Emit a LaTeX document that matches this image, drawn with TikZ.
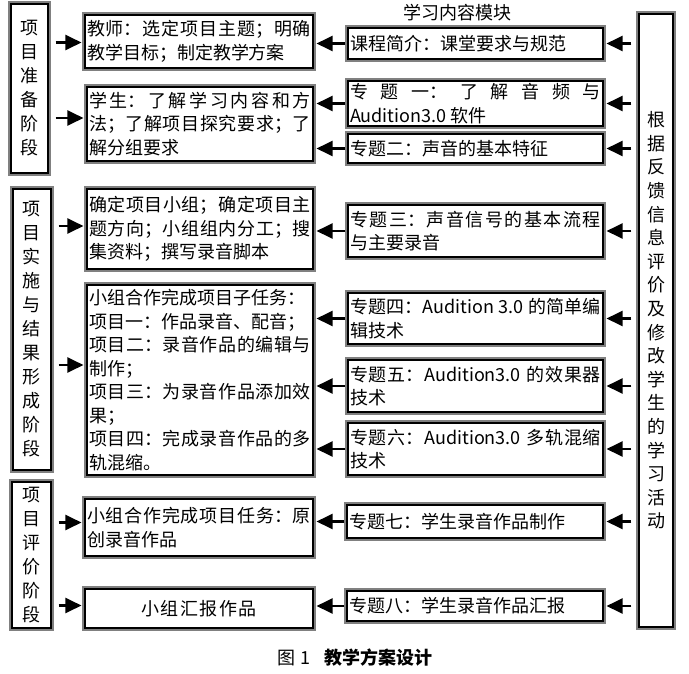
\documentclass[tikz,border=0pt]{standalone}
\usepackage{fontspec}
\setmainfont{Noto Sans CJK SC}
\usetikzlibrary{arrows.meta}
\XeTeXlinebreaklocale "zh"
\XeTeXlinebreakskip=0pt plus 1pt
\newcommand{\boxfont}{\fontsize{18}{23.5}\selectfont}
\newcommand{\colfont}{\fontsize{18}{24}\selectfont}
\begin{document}
\begin{tikzpicture}[x=1pt, y=-1pt,
		box/.style={fill=white, draw=black, line width=1.1pt,
			preaction={draw=gray, line width=6pt},
			preaction={draw=white, line width=2.6pt},
			inner xsep=2pt, inner ysep=1pt, align=justify, font=\boxfont},
		stage/.style={box, align=center, font=\colfont},
		arr/.style={-{Triangle[length=16pt,width=15pt]}, line width=2.2pt, shorten >=3pt}]
	\useasboundingbox (0,0) rectangle (689,673);
	\node[stage, text width=33pt, minimum height=169pt] (s1) at (29.5,88.5) {项\\目\\准\\备\\阶\\段};
	\node[stage, text width=34pt, minimum height=281pt] (s2) at (32,329.5) {项\\目\\实\\施\\与\\结\\果\\形\\成\\阶\\段};
	\node[stage, text width=35pt, minimum height=146pt] (s3) at (31.5,555) {项\\目\\评\\价\\阶\\段};
	\node[box, text width=224pt, minimum height=53pt] (M1) at (199,41.5) {教师：选定项目主题；明确\linebreak 教学目标；制定教学方案};
	\node[box, text width=222pt, minimum height=74pt] (M2) at (200,124) {学生：了解学习内容和方\linebreak 法；了解项目探究要求；了\linebreak 解分组要求};
	\node[box, text width=222pt, minimum height=80pt] (M3) at (200,229) {确定项目小组；确定项目主\linebreak 题方向；小组组内分工；搜\linebreak 集资料；撰写录音脚本};
	\node[box, text width=222pt, minimum height=190pt] (M4) at (200,380) {小组合作完成项目子任务：\\项目一：作品录音、配音；\\项目二：录音作品的编辑与\linebreak 制作；\\项目三：为录音作品添加效\linebreak 果；\\项目四：完成录音作品的多\linebreak 轨混缩。};
	\node[box, text width=224pt, minimum height=57pt] (M5) at (199,527.5) {小组合作完成项目任务：原\linebreak 创录音作品};
	\node[box, align=center, text width=224pt, minimum height=39pt] (M6) at (199,608.5) {小组汇报作品};
	\node[font=\boxfont] (title) at (457,13) {学习内容模块};
	\node[box, text width=251pt, minimum height=31pt] (R0) at (475.5,43.5) {课程简介：课堂要求与规范};
	\node[box, text width=251pt, minimum height=45pt] (R1) at (475.5,103.5) {专题一：了解音频与\linebreak Audition3.0 软件};
	\node[box, text width=251pt, minimum height=29pt] (R2) at (475.5,148.5) {专题二：声音的基本特征};
	\node[box, text width=251pt, minimum height=52pt] (R3) at (475.5,231) {专题三：声音信号的基本流程\linebreak 与主要录音};
	\node[box, text width=251pt, minimum height=51pt] (R4) at (475.5,318.5) {专题四：Audition 3.0 的简单编\linebreak 辑技术};
	\node[box, text width=251pt, minimum height=52pt] (R5) at (475.5,386) {专题五：Audition3.0 的效果器\linebreak 技术};
	\node[box, text width=251pt, minimum height=52pt] (R6) at (475.5,449) {专题六：Audition3.0 多轨混缩\linebreak 技术};
	\node[box, text width=252pt, minimum height=33pt] (R7) at (475,521.5) {专题七：学生录音作品制作};
	\node[box, text width=252pt, minimum height=30pt] (R8) at (475,606) {专题八：学生录音作品汇报};
	\node[stage, font=\fontsize{18}{23.6}\selectfont, text width=30pt, minimum height=613pt] (T) at (656,320.5) {根\\据\\反\\馈\\信\\息\\评\\价\\及\\修\\改\\学\\生\\的\\学\\习\\活\\动};
	\foreach \s/\m/\dy in {s1/M1/-1, s1/M2/6, s2/M3/3, s2/M4/15, s3/M5/5, s3/M6/3} {
		\coordinate (tip) at ([yshift=\dy pt]\m.west);
		\draw[arr, shorten <=7pt] (\s.east |- tip) -- (tip);
	}
	\foreach \r/\m in {R0/M1, R1/M2, R2/M2, R3/M3, R4/M4, R5/M4, R6/M4, R7/M5, R8/M6}
		\draw[arr, shorten <=2pt] (\r.west) -- (\r.west -| \m.east);
	\foreach \r in {R0,R1,R2,R3,R4,R5,R6,R7,R8}
		\draw[arr, shorten <=7pt] (T.west |- \r) -- (\r.east);
	\node[font=\fontsize{18}{20}\selectfont] (cap) at (355,658) {图 1\hspace{14pt}\textbf{教学方案设计}};
\end{tikzpicture}
\end{document}
